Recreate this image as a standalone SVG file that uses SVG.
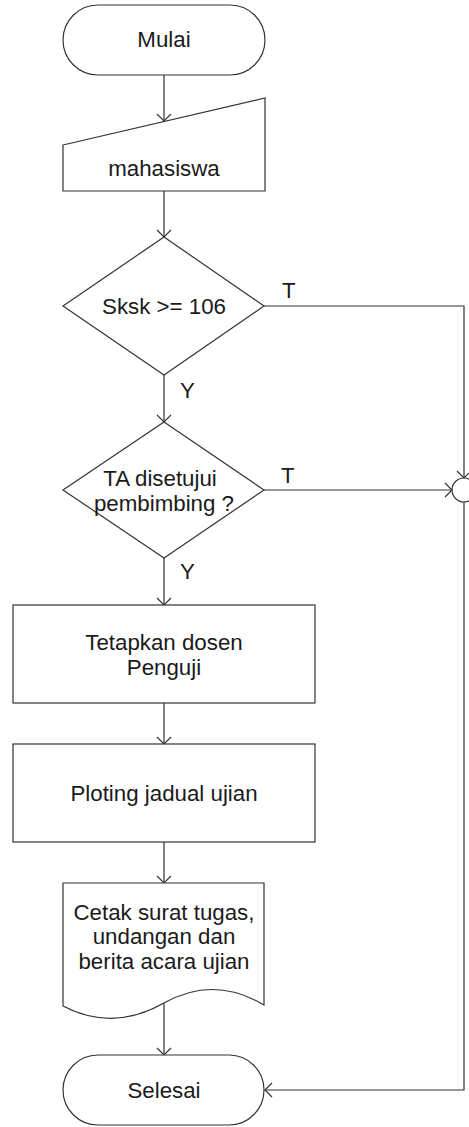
<svg xmlns="http://www.w3.org/2000/svg" width="469" height="1127" viewBox="0 0 469 1127">
<style>
.s{fill:#fff;stroke:#333;stroke-width:1.2}
.c{fill:none;stroke:#333;stroke-width:1.2}
text{font-family:"Liberation Sans",Arial,sans-serif;font-size:22.3px;fill:#1a1a1a;text-anchor:middle}
.l{text-anchor:start}
</style>
<defs>
<marker id="a" markerUnits="userSpaceOnUse" markerWidth="20" markerHeight="20" viewBox="-10 -10 20 20" refX="0" refY="0" orient="auto">
<path d="M-7,-7 L0,0 L-7,7" fill="none" stroke="#333" stroke-width="1.2"/>
</marker>
</defs>
<rect width="469" height="1127" fill="#fff"/>
<g id="connectors">
<line class="c" x1="164" y1="75" x2="164" y2="121" marker-end="url(#a)"/>
<line class="c" x1="164" y1="191" x2="164" y2="237" marker-end="url(#a)"/>
<line class="c" x1="164" y1="375" x2="164" y2="422" marker-end="url(#a)"/>
<line class="c" x1="164" y1="558" x2="164" y2="605" marker-end="url(#a)"/>
<line class="c" x1="164" y1="703" x2="164" y2="744" marker-end="url(#a)"/>
<line class="c" x1="164" y1="842" x2="164" y2="883" marker-end="url(#a)"/>
<line class="c" x1="164" y1="1003" x2="164" y2="1055" marker-end="url(#a)"/>
<polyline class="c" points="264,306 464,306 464,478" marker-end="url(#a)"/>
<line class="c" x1="264" y1="490" x2="452" y2="490" marker-end="url(#a)"/>
<polyline class="c" points="464,502 464,1090 265,1090" marker-end="url(#a)"/>
<text class="l" x="282" y="298">T</text>
<text class="l" x="180" y="398">Y</text>
<text class="l" x="281" y="483">T</text>
<text class="l" x="180" y="579">Y</text>
</g>
<g id="mulai">
<rect class="s" x="63" y="5" width="202" height="70" rx="35"/>
<text x="164" y="47">Mulai</text>
</g>
<g id="mahasiswa">
<polygon class="s" points="63,145 265,98 265,191 63,191"/>
<text x="164" y="176">mahasiswa</text>
</g>
<g id="sksk">
<polygon class="s" points="164,237 264,306 164,375 63,306"/>
<text x="164" y="314">Sksk &gt;= 106</text>
</g>
<g id="ta">
<polygon class="s" points="164,422 264,490 164,558 63,490"/>
<text x="160" y="486">TA disetujui</text>
<text x="164" y="511">pembimbing ?</text>
</g>
<g id="connector-circle">
<circle class="s" cx="464" cy="490" r="12"/>
</g>
<g id="tetapkan">
<rect class="s" x="13" y="605" width="302" height="98"/>
<text x="164" y="650">Tetapkan dosen</text>
<text x="164" y="675">Penguji</text>
</g>
<g id="ploting">
<rect class="s" x="13" y="744" width="302" height="98"/>
<text x="164" y="801">Ploting jadual ujian</text>
</g>
<g id="cetak">
<path class="s" d="M63,883 L264,883 L264,1005 Q214,975 164,1003 Q113,1032 63,1006 Z"/>
<text x="164" y="920">Cetak surat tugas,</text>
<text x="164" y="944">undangan dan</text>
<text x="164" y="969">berita acara ujian</text>
</g>
<g id="selesai">
<rect class="s" x="63" y="1055" width="201" height="70" rx="35"/>
<text x="164" y="1098">Selesai</text>
</g>
</svg>
